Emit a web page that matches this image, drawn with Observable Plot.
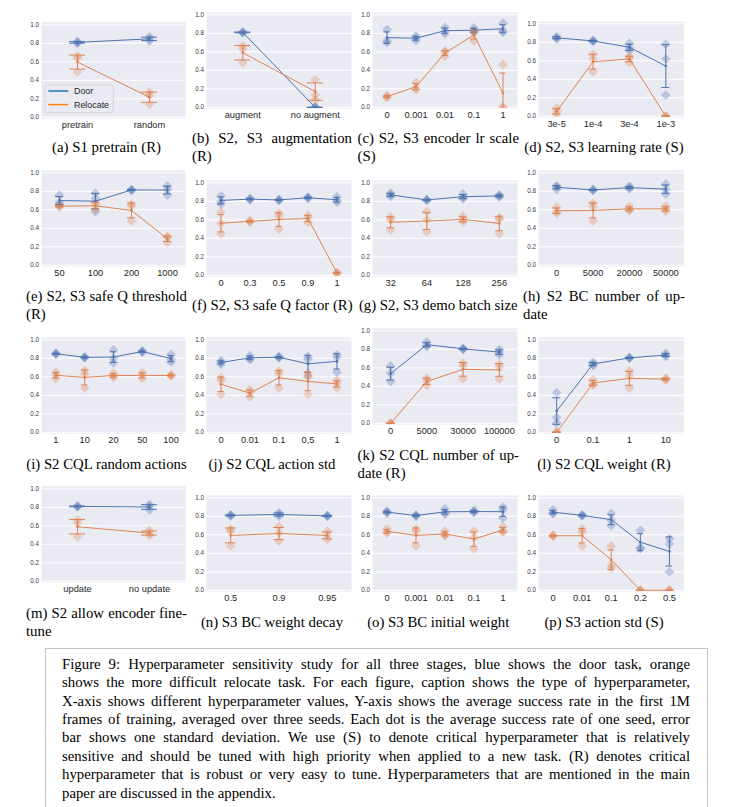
<!DOCTYPE html>
<html><head><meta charset="utf-8">
<script src="https://cdn.jsdelivr.net/npm/d3@7"></script>
<script src="https://cdn.jsdelivr.net/npm/@observablehq/plot@0.6"></script>
<style>
body{margin:0;background:#fff;}
#fig{position:relative;width:731px;height:807px;overflow:hidden;background:#fff;}
.panel{position:absolute;}
.cap{position:absolute;font-family:"Liberation Serif","Times New Roman",serif;font-size:14.8px;color:#000;white-space:nowrap;}
.just{text-align:justify;text-align-last:justify;}
#capbox{position:absolute;left:45px;top:648px;width:663px;height:170px;border:1px solid #c4c4c4;box-sizing:border-box;}
</style></head><body><div id="fig"></div>
<script>
// ---------- data ----------
const yTicks = [0, 0.2, 0.4, 0.6, 0.8, 1.0];
const seriesNames = ["Door", "Relocate"];

const catsA = ["pretrain", "random"];
const doorA = [[0.80, 0.81, 0.82], [0.87, 0.85, 0.825]];
const relocA = [[0.66, 0.64, 0.49], [0.27, 0.24, 0.14]];

const catsB = ["augment", "no augment"];
const doorB = [[0.805, 0.81, 0.815], [0, 0, 0]];
const relocB = [[0.66, 0.63, 0.48], [0.30, 0.13, 0.08]];

const catsC = ["0", "0.001", "0.01", "0.1", "1"];
const doorC = [[0.84, 0.72, 0.70], [0.77, 0.75, 0.72], [0.865, 0.825, 0.795], [0.86, 0.83, 0.81], [0.91, 0.83, 0.81]];
const relocC = [[0.125, 0.115, 0.105], [0.27, 0.21, 0.19], [0.61, 0.60, 0.55], [0.82, 0.81, 0.72], [0.46, 0, 0]];

const catsD = ["3e-5", "1e-4", "3e-4", "1e-3"];
const doorD = [[0.86, 0.85, 0.835], [0.82, 0.815, 0.81], [0.79, 0.74, 0.71], [0.78, 0.62, 0.23]];
const relocD = [[0.09, 0.05, 0.02], [0.67, 0.62, 0.48], [0.65, 0.63, 0.58], [0, 0, 0]];

const catsE = ["50", "100", "200", "1000"];
const doorE = [[0.76, 0.68, 0.66], [0.78, 0.72, 0.58], [0.82, 0.815, 0.81], [0.86, 0.82, 0.76]];
const relocE = [[0.65, 0.64, 0.63], [0.68, 0.65, 0.60], [0.66, 0.64, 0.48], [0.31, 0.305, 0.245]];

const catsF = ["0", "0.3", "0.5", "0.9", "1"];
const doorF = [[0.86, 0.80, 0.77], [0.83, 0.825, 0.815], [0.82, 0.815, 0.81], [0.845, 0.84, 0.83], [0.85, 0.81, 0.79]];
const relocF = [[0.68, 0.56, 0.45], [0.59, 0.585, 0.575], [0.67, 0.64, 0.50], [0.65, 0.62, 0.57], [0.03, 0.025, 0.02]];

const catsG = ["32", "64", "128", "256"];
const doorG = [[0.89, 0.87, 0.85], [0.82, 0.815, 0.81], [0.88, 0.84, 0.83], [0.87, 0.86, 0.845]];
const relocG = [[0.63, 0.60, 0.49], [0.69, 0.60, 0.47], [0.64, 0.60, 0.575], [0.62, 0.61, 0.45]];

const catsH = ["0", "5000", "20000", "50000"];
const doorH = [[0.86, 0.85, 0.82], [0.82, 0.815, 0.81], [0.855, 0.84, 0.825], [0.88, 0.82, 0.77]];
const relocH = [[0.63, 0.58, 0.56], [0.67, 0.63, 0.48], [0.64, 0.60, 0.59], [0.64, 0.605, 0.585]];

const catsI = ["1", "10", "20", "50", "100"];
const doorI = [[0.855, 0.85, 0.845], [0.815, 0.81, 0.805], [0.89, 0.80, 0.75], [0.88, 0.875, 0.865], [0.84, 0.79, 0.76]];
const relocI = [[0.65, 0.62, 0.58], [0.67, 0.63, 0.48], [0.64, 0.61, 0.595], [0.645, 0.62, 0.58], [0.62, 0.615, 0.61]];

const catsJ = ["0", "0.01", "0.1", "0,5", "1"];
const doorJ = [[0.775, 0.755, 0.735], [0.83, 0.80, 0.785], [0.82, 0.81, 0.805], [0.82, 0.79, 0.61], [0.84, 0.81, 0.65]];
const relocJ = [[0.59, 0.56, 0.41], [0.46, 0.43, 0.38], [0.66, 0.63, 0.48], [0.64, 0.60, 0.41], [0.56, 0.53, 0.48]];

const catsK = ["0", "5000", "30000", "100000"];
const doorK = [[0.62, 0.54, 0.45], [0.88, 0.84, 0.83], [0.81, 0.805, 0.80], [0.80, 0.77, 0.74]];
const relocK = [[0, 0, 0], [0.49, 0.46, 0.41], [0.65, 0.62, 0.48], [0.64, 0.61, 0.48]];

const catsL = ["0", "0.1", "1", "10"];
const doorL = [[0.43, 0.16, 0.10], [0.76, 0.735, 0.72], [0.81, 0.805, 0.80], [0.855, 0.83, 0.82]];
const relocL = [[0, 0, 0], [0.57, 0.52, 0.51], [0.66, 0.61, 0.48], [0.585, 0.575, 0.565]];

const catsM = ["update", "no update"];
const doorM = [[0.815, 0.81, 0.805], [0.83, 0.81, 0.77]];
const relocM = [[0.66, 0.63, 0.48], [0.55, 0.52, 0.495]];

const catsN = ["0.5", "0.9", "0.95"];
const doorN = [[0.815, 0.81, 0.805], [0.84, 0.82, 0.80], [0.81, 0.805, 0.80]];
const relocN = [[0.66, 0.64, 0.48], [0.69, 0.62, 0.53], [0.64, 0.59, 0.55]];

const catsO = ["0", "0.001", "0.01", "0.1", "1"];
const doorO = [[0.855, 0.845, 0.835], [0.815, 0.81, 0.80], [0.88, 0.84, 0.825], [0.865, 0.85, 0.84], [0.90, 0.87, 0.78]];
const relocO = [[0.665, 0.63, 0.62], [0.66, 0.64, 0.48], [0.64, 0.60, 0.59], [0.64, 0.57, 0.45], [0.69, 0.64, 0.63]];

const catsP = ["0", "0.01", "0.1", "0.2", "0.5"];
const doorP = [[0.87, 0.835, 0.83], [0.815, 0.81, 0.805], [0.83, 0.76, 0.70], [0.65, 0.46, 0.45], [0.56, 0.50, 0.20]];
const relocP = [[0.595, 0.59, 0.585], [0.66, 0.63, 0.48], [0.48, 0.27, 0.24], [0, 0, 0], [0, 0, 0]];

const subcaptions = {
  a: ["(a) S1 pretrain (R)"],
  b: ["(b) S2, S3 augmentation", "(R)"],
  c: ["(c) S2, S3 encoder lr scale", "(S)"],
  d: ["(d) S2, S3 learning rate (S)"],
  e: ["(e) S2, S3 safe Q threshold", "(R)"],
  f: ["(f) S2, S3 safe Q factor (R)"],
  g: ["(g) S2, S3 demo batch size"],
  h: ["(h) S2 BC number of up-", "date"],
  i: ["(i) S2 CQL random actions"],
  j: ["(j) S2 CQL action std"],
  k: ["(k) S2 CQL number of up-", "date (R)"],
  l: ["(l) S2 CQL weight (R)"],
  m: ["(m) S2 allow encoder fine-", "tune"],
  n: ["(n) S3 BC weight decay"],
  o: ["(o) S3 BC initial weight"],
  p: ["(p) S3 action std (S)"]
};

const figureCaption = [
  "Figure 9: Hyperparameter sensitivity study for all three stages, blue shows the door task, orange",
  "shows the more difficult relocate task. For each figure, caption shows the type of hyperparameter,",
  "X-axis shows different hyperparameter values, Y-axis shows the average success rate in the first 1M",
  "frames of training, averaged over three seeds. Each dot is the average success rate of one seed, error",
  "bar shows one standard deviation. We use (S) to denote critical hyperparameter that is relatively",
  "sensitive and should be tuned with high priority when applied to a new task. (R) denotes critical",
  "hyperparameter that is robust or very easy to tune. Hyperparameters that are mentioned in the main",
  "paper are discussed in the appendix."
];

// ---------- layout ----------
const colGray = [[40.7, 184.7], [206, 351], [372, 517], [537.5, 683]];
const colText = [[26, 187], [192, 352], [357.5, 519], [523, 685]];
const rowCapY = [147.5, 306, 465, 622.7];
const SPAN = 92.5;
const YDOM = [-0.014, 1.025];
const COLORS = {Door: "#4c72b0", Relocate: "#dd8452"};

const panels = [
  {k: "a", col: 0, row: 0, y1: 24, cats: catsA, door: doorA, reloc: relocA},
  {k: "b", col: 1, row: 0, y1: 14.5, cats: catsB, door: doorB, reloc: relocB},
  {k: "c", col: 2, row: 0, y1: 14.5, cats: catsC, door: doorC, reloc: relocC},
  {k: "d", col: 3, row: 0, y1: 23.5, cats: catsD, door: doorD, reloc: relocD},
  {k: "e", col: 0, row: 1, y1: 172.7, cats: catsE, door: doorE, reloc: relocE},
  {k: "f", col: 1, row: 1, y1: 182.5, cats: catsF, door: doorF, reloc: relocF},
  {k: "g", col: 2, row: 1, y1: 182.5, cats: catsG, door: doorG, reloc: relocG},
  {k: "h", col: 3, row: 1, y1: 172.7, cats: catsH, door: doorH, reloc: relocH},
  {k: "i", col: 0, row: 2, y1: 339.3, cats: catsI, door: doorI, reloc: relocI},
  {k: "j", col: 1, row: 2, y1: 339.3, cats: catsJ, door: doorJ, reloc: relocJ},
  {k: "k", col: 2, row: 2, y1: 330, cats: catsK, door: doorK, reloc: relocK},
  {k: "l", col: 3, row: 2, y1: 339.3, cats: catsL, door: doorL, reloc: relocL},
  {k: "m", col: 0, row: 3, y1: 488.3, cats: catsM, door: doorM, reloc: relocM},
  {k: "n", col: 1, row: 3, y1: 497.3, cats: catsN, door: doorN, reloc: relocN},
  {k: "o", col: 2, row: 3, y1: 497.3, cats: catsO, door: doorO, reloc: relocO},
  {k: "p", col: 3, row: 3, y1: 497.3, cats: catsP, door: doorP, reloc: relocP}
];

const fig = document.getElementById("fig");

function seedRows(cats, seeds) {
  return cats.flatMap((c, i) => seeds[i].map(v => ({cat: c, v})));
}
function statRows(cats, seeds) {
  return cats.map((c, i) => {
    const m = d3.mean(seeds[i]);
    const sd = Math.sqrt(d3.mean(seeds[i], v => (v - m) ** 2));
    return {cat: c, mean: m, lo: m - sd, hi: m + sd};
  });
}

function drawPanel(p) {
  const [gx0, gx1] = colGray[p.col];
  const gTop = p.y1 - (YDOM[1] - 1) * SPAN;
  const gH = (YDOM[1] - YDOM[0]) * SPAN;
  const ML = 30, MR = 4, MT = 3, MB = 18;
  const W = gx1 - gx0 + ML + MR, H = gH + MT + MB;
  const step = (gx1 - gx0) / p.cats.length;
  const ins = step * (1 - 0.22) / 2;
  const series = [["Door", p.door], ["Relocate", p.reloc]];
  const marks = [
    Plot.frame({fill: "#eaeaf2", stroke: "none"}),
    Plot.ruleY(yTicks, {stroke: "#ffffff", strokeWidth: 1})
  ];
  for (const [name, seeds] of series) {
    marks.push(Plot.dot(seedRows(p.cats, seeds), {x: "cat", y: "v", symbol: "diamond2", r: 4.4, fill: COLORS[name], fillOpacity: 0.3, stroke: "none", clip: true}));
  }
  for (const [name, seeds] of series) {
    const st = statRows(p.cats, seeds);
    const c = COLORS[name];
    marks.push(
      Plot.line(st, {x: "cat", y: "mean", stroke: c, strokeWidth: 1, clip: true}),
      Plot.ruleX(st, {x: "cat", y1: "lo", y2: "hi", stroke: c, strokeWidth: 1, clip: true}),
      Plot.tickY(st, {x: "cat", y: "lo", stroke: c, strokeWidth: 1, insetLeft: ins, insetRight: ins, clip: true}),
      Plot.tickY(st, {x: "cat", y: "hi", stroke: c, strokeWidth: 1, insetLeft: ins, insetRight: ins, clip: true}),
      Plot.dot(st, {x: "cat", y: "mean", r: 1.3, fill: c, stroke: "none", clip: true})
    );
  }
  marks.push(
    Plot.axisY({ticks: yTicks, tickFormat: d3.format(".1f"), tickSize: 0, tickPadding: 2.5, fontSize: 6.3, color: "#3a3a3a", label: null}),
    Plot.axisX({tickSize: 0, tickPadding: 3, fontSize: 9.3, color: "#262626", label: null})
  );
  const svg = Plot.plot({
    width: W, height: H,
    marginLeft: ML, marginRight: MR, marginTop: MT, marginBottom: MB,
    x: {type: "band", domain: p.cats, padding: 0, round: false, label: null},
    y: {domain: YDOM, label: null},
    style: {fontFamily: "'Liberation Sans', Arial, sans-serif", background: "transparent", overflow: "visible", color: "#262626"},
    marks
  });
  const div = document.createElement("div");
  div.className = "panel";
  div.style.left = (gx0 - ML) + "px";
  div.style.top = (gTop - MT) + "px";
  div.appendChild(svg);
  fig.appendChild(div);

  // subcaption
  const lines = subcaptions[p.k];
  const [tx0, tx1] = colText[p.col];
  const LH = 17.7;
  const yc = rowCapY[p.row];
  lines.forEach((t, i) => {
    const d = document.createElement("div");
    d.className = "cap";
    d.textContent = t;
    const cy = lines.length === 1 ? yc : yc + (i - 0.5) * LH;
    d.style.left = tx0 + "px";
    d.style.width = (tx1 - tx0) + "px";
    d.style.top = (cy - LH / 2) + "px";
    d.style.height = LH + "px";
    d.style.lineHeight = LH + "px";
    if (lines.length === 1) d.style.textAlign = "center";
    else if (i < lines.length - 1) d.classList.add("just");
    else d.style.textAlign = "left";
    fig.appendChild(d);
  });
}

panels.forEach(drawPanel);

// legend in panel (a)
const ns = "http://www.w3.org/2000/svg";
const lg = document.createElementNS(ns, "svg");
lg.setAttribute("width", 731); lg.setAttribute("height", 807);
lg.style.position = "absolute"; lg.style.left = "0"; lg.style.top = "0"; lg.style.pointerEvents = "none";
const legendColors = ["#1f77b4", "#ff7f0e"];
lg.innerHTML = `<rect x="45" y="85" width="68.3" height="27.7" rx="2.5" fill="#eaeaf2" fill-opacity="0.8" stroke="#cfcfcf" stroke-width="0.8"/>` +
  seriesNames.map((n, i) => `<line x1="48.3" x2="68.3" y1="${91 + i * 13.6}" y2="${91 + i * 13.6}" stroke="${legendColors[i]}" stroke-width="1.5"/>` +
    `<text x="74" y="${91 + i * 13.6}" dy="0.35em" font-size="8.9" fill="#262626" font-family="'Liberation Sans', Arial, sans-serif">${n}</text>`).join("");
fig.appendChild(lg);

// figure caption (framed)
const box = document.createElement("div");
box.id = "capbox";
fig.appendChild(box);
figureCaption.forEach((t, i) => {
  const d = document.createElement("div");
  d.className = "cap";
  d.textContent = t;
  const LH = 18.4;
  d.style.left = "62px";
  d.style.width = "628px";
  d.style.top = (664 + i * LH - LH / 2) + "px";
  d.style.height = LH + "px";
  d.style.lineHeight = LH + "px";
  if (i < figureCaption.length - 1) d.classList.add("just");
  fig.appendChild(d);
});
</script></body></html>
